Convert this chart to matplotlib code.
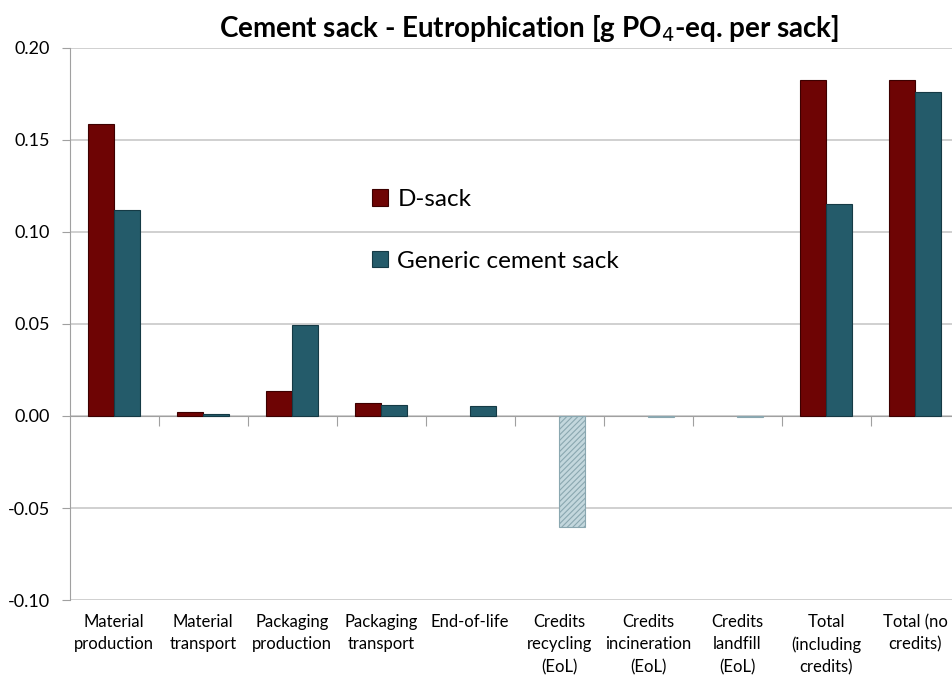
import matplotlib.pyplot as plt
import matplotlib.transforms as mtransforms
import numpy as np

plt.rcParams['font.family'] = ['Lato', 'DejaVu Sans']
plt.rcParams['hatch.linewidth'] = 0.8

# data
categories = ['Material\nproduction', 'Material\ntransport', 'Packaging\nproduction',
              'Packaging\ntransport', 'End-of-life', 'Credits\nrecycling\n(EoL)',
              'Credits\nincineration\n(EoL)', 'Credits\nlandfill\n(EoL)',
              'Total\n(including\ncredits)', 'Total (no\ncredits)']
d_sack = [0.1587, 0.0022, 0.0136, 0.0071, 0.0, 0.0, 0.0, 0.0, 0.1826, 0.1826]
generic = [0.1121, 0.0011, 0.0495, 0.0060, 0.0055, -0.0603, -0.0003, -0.0003, 0.1152, 0.1761]

red = '#6e0404'
teal = '#245b6a'

fig = plt.figure(figsize=(9.53, 6.77), dpi=100)
ax = fig.add_axes([0.073, 0.1137, 0.934, 0.8155])

x = np.arange(len(categories))
w = 0.29

d_lw = [0.8 if v != 0 else 0 for v in d_sack]
ax.bar(x - w / 2, d_sack, w, color=red, edgecolor='#3d0000', linewidth=d_lw,
       label='D-sack', zorder=3)
gen_colors = [teal if v >= 0 else '#c3d7dd' for v in generic]
gen_edges = ['#153a45' if v >= 0 else '#8aa7b0' for v in generic]
bars = ax.bar(x + w / 2, generic, w, color=gen_colors, edgecolor=gen_edges,
              linewidth=0.8, label='Generic cement sack', zorder=3)
for b, v in zip(bars, generic):
    if v < 0:
        b.set_hatch('//////')

ax.set_xlim(-0.5, len(categories) - 0.5)
ax.set_ylim(-0.10, 0.20)
ax.set_yticks(np.arange(-0.10, 0.201, 0.05))
ax.set_yticklabels(['%.2f' % t for t in np.arange(-0.10, 0.201, 0.05)], fontsize=13)
ax.yaxis.grid(True, color='#c8c8c8', linewidth=1.2, zorder=0)
ax.set_axisbelow(True)

for s in ['top', 'right']:
    ax.spines[s].set_visible(False)
ax.spines['left'].set_color('#a0a0a0')
ax.spines['bottom'].set_position(('data', 0))
ax.spines['bottom'].set_color('#a0a0a0')
ax.tick_params(axis='y', length=6, color='#a0a0a0', pad=8)

ax.set_xticks(x[:-1] + 0.5)
ax.set_xticklabels([])
ax.tick_params(axis='x', length=7, color='#a0a0a0', direction='out')

trans = mtransforms.blended_transform_factory(ax.transData, ax.transAxes)
for xi, lab in zip(x, categories):
    ax.text(xi, -0.025, lab, transform=trans, ha='center', va='top',
            fontsize=12, linespacing=1.5)

ax.set_title('Cement sack - Eutrophication [g PO$_4$-eq. per sack]',
             fontsize=20, fontweight='bold', pad=8, x=0.516)

ax.legend(loc='upper left', bbox_to_anchor=(0.315, 0.784), frameon=False,
          fontsize=17.5, handlelength=0.65, handleheight=0.65, handletextpad=0.4,
          labelspacing=1.68)

fig.savefig('out.png', dpi=100)
